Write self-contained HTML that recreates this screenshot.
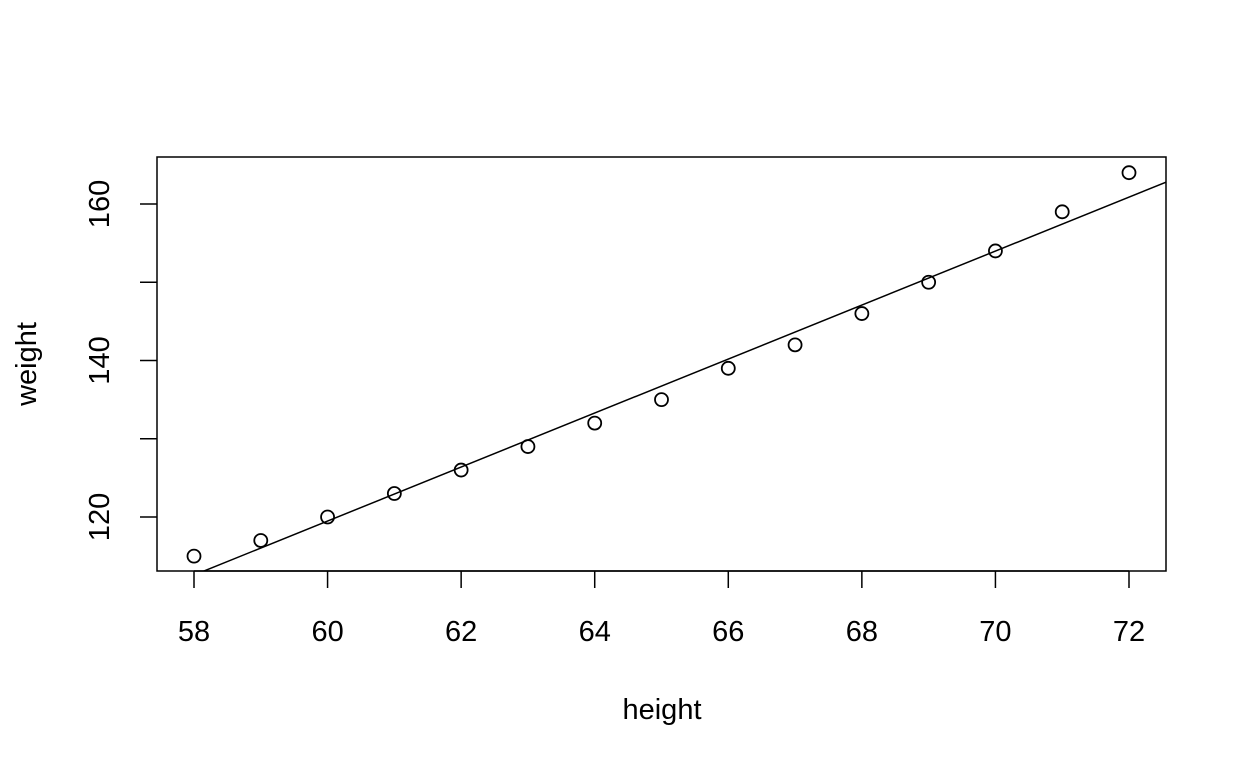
<!DOCTYPE html>
<html><head><meta charset="utf-8"><style>
html,body{margin:0;padding:0;background:#fff;}
svg{display:block;font-family:"Liberation Sans",Arial,sans-serif;}
</style></head><body>
<svg id="chart" width="1248" height="768" viewBox="0 0 1248 768" xmlns="http://www.w3.org/2000/svg">
<defs><clipPath id="clip"><rect x="157" y="157" width="1009" height="414"/></clipPath></defs>
<rect x="157" y="157" width="1009" height="414" fill="none" stroke="#000" stroke-width="1.5"/>
<g id="xaxis"></g>
<g id="yaxis"></g>
<g id="points"></g>
<g id="fit" clip-path="url(#clip)"></g>
<text x="662" y="719" font-size="29" text-anchor="middle">height</text>
<text transform="translate(36,364) rotate(-90)" font-size="29" text-anchor="middle">weight</text>
</svg>
<script>
const heights = [58,59,60,61,62,63,64,65,66,67,68,69,70,71,72];
const weights = [115,117,120,123,126,129,132,135,139,142,146,150,154,159,164];
const xTicks = [58,60,62,64,66,68,70,72];
const yTicks = [120,130,140,150,160];
const yTickLabels = ["120","","140","","160"];
const fitCoef = [-87.51667, 3.45];

const NS = "http://www.w3.org/2000/svg";
const sx = v => 194 + (v - 58) * (935 / 14);
const sy = v => 517 - (v - 120) * (313 / 40);
function mk(tag, attrs, parent){const e=document.createElementNS(NS,tag);for(const k in attrs)e.setAttribute(k,attrs[k]);parent.appendChild(e);return e;}

const xa = document.getElementById('xaxis');
mk('line',{x1:sx(xTicks[0]),x2:sx(xTicks[xTicks.length-1]),y1:571,y2:571,stroke:'#000','stroke-width':1.5},xa);
xTicks.forEach(t=>{
  const l=mk('line',{x1:sx(t),x2:sx(t),y1:571,y2:588,stroke:'#000','stroke-width':1.5},xa);
  
  
  const tx=mk('text',{x:sx(t),y:641,'font-size':29,'text-anchor':'middle'},xa);
  tx.textContent=t;
  
  
});
const ya = document.getElementById('yaxis');
yTicks.forEach((t,i)=>{
  const l=mk('line',{x1:140,x2:157,y1:sy(t),y2:sy(t),stroke:'#000','stroke-width':1.5},ya);
  
  
  if(yTickLabels[i]){
    const tx=mk('text',{transform:`translate(${109},${sy(t)}) rotate(-90)`,'font-size':29,'text-anchor':'middle'},ya);
    tx.textContent=yTickLabels[i];
    
    
  }
});
const pts = document.getElementById('points');
heights.forEach((h,i)=>{
  const c=mk('circle',{cx:sx(h),cy:sy(weights[i]),r:6.5,fill:'none',stroke:'#000','stroke-width':1.8},pts);
  
  
});
const fit=document.getElementById('fit');
const x0=56,x1=74;
const fl=mk('line',{x1:sx(x0),y1:sy(fitCoef[0]+fitCoef[1]*x0),x2:sx(x1),y2:sy(fitCoef[0]+fitCoef[1]*x1),stroke:'#000','stroke-width':1.5},fit);


</script>
</body></html>
